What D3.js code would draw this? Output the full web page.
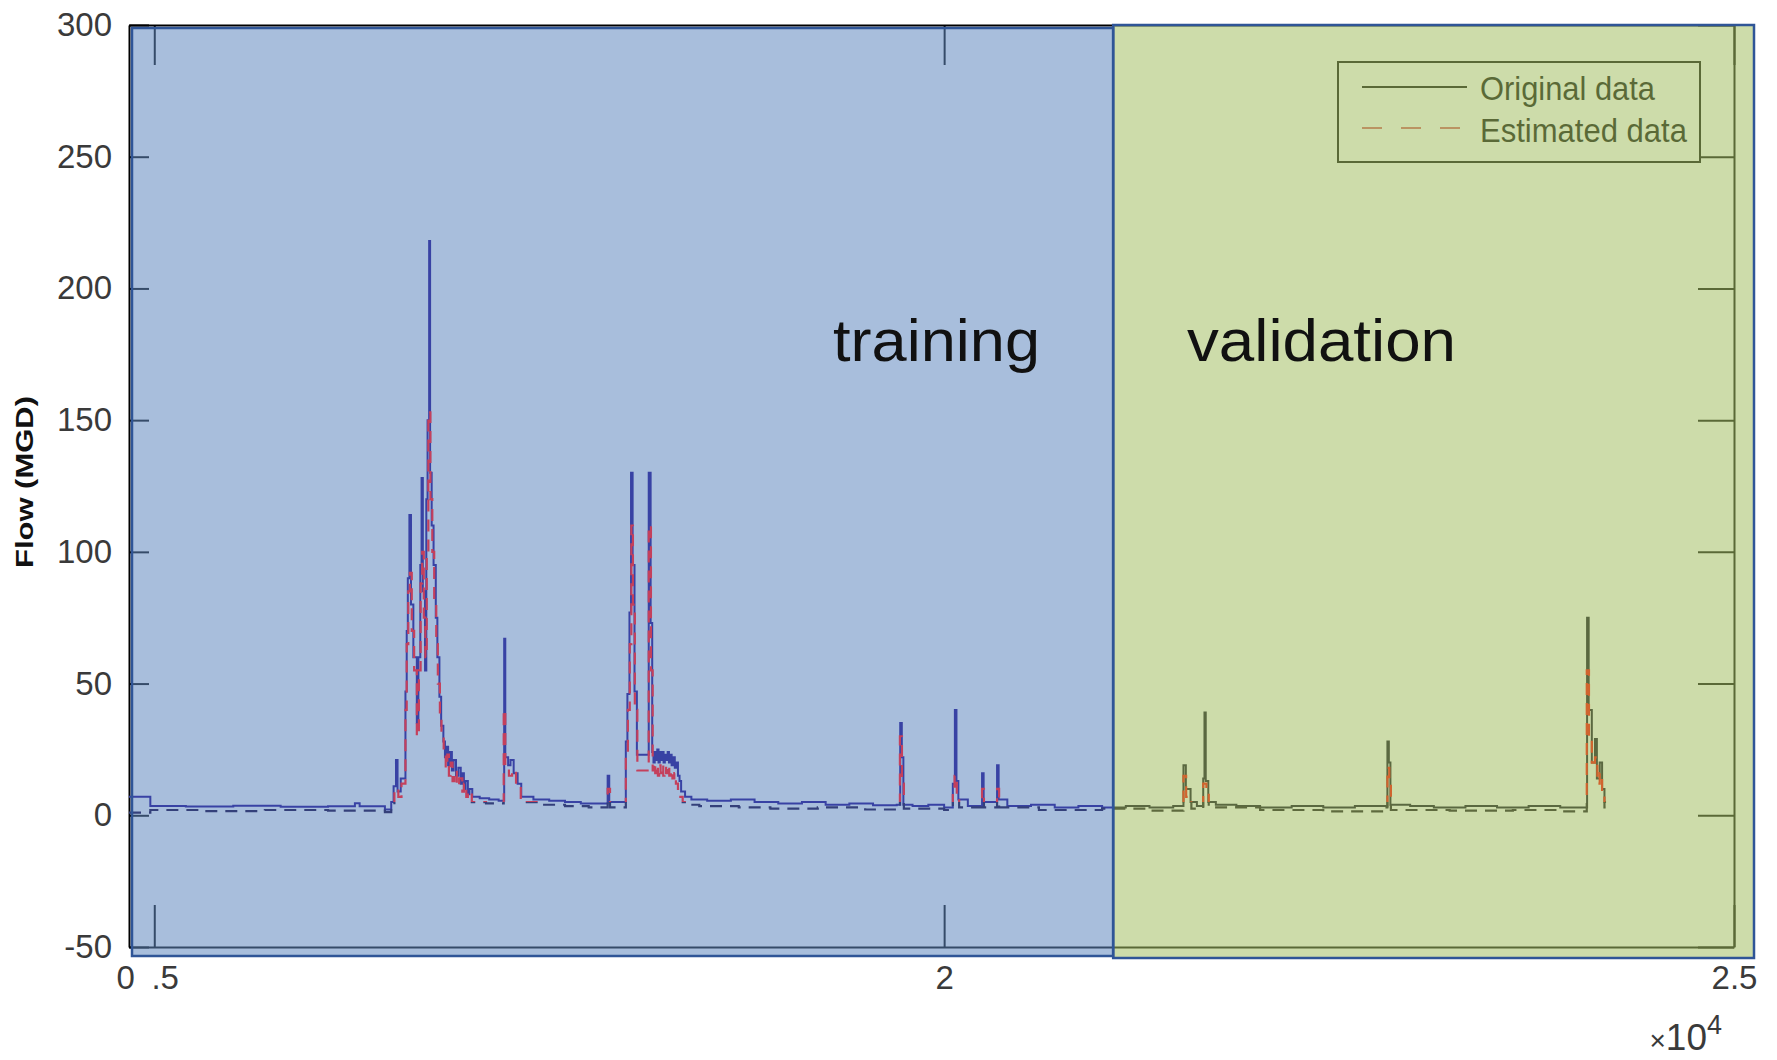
<!DOCTYPE html>
<html>
<head>
<meta charset="utf-8">
<script src="https://cdn.jsdelivr.net/npm/d3@7"></script>
<style>
  html, body { margin: 0; padding: 0; background: #fff; }
  svg { display: block; font-family: "Liberation Sans", Arial, Helvetica, sans-serif; }
</style>
</head>
<body>
<div id="chart-area"></div>
<script>
// sample index (raw, x-axis is shown as x10^4) and flow in MGD
const origTime = [14840, 14975, 15200, 15500, 15800, 16100, 16270, 16300, 16460, 16500, 16515, 16530, 16540, 16560,
  16590, 16598, 16605, 16615, 16625, 16640, 16662, 16672, 16684, 16692, 16700, 16714, 16722, 16730, 16740, 16746,
  16756, 16768, 16782, 16792, 16805, 16816, 16830, 16840, 16850, 16860, 16872, 16884, 16895, 16910, 16925, 16940,
  16950, 16960, 16970, 16985, 16995, 17013, 17060, 17120, 17180, 17215, 17222, 17240, 17255, 17275, 17300, 17323,
  17400, 17500, 17600, 17700, 17800, 17870, 17880, 17985, 17995, 18008, 18018, 18028, 18040, 18055, 18130, 18142,
  18152, 18160, 18168, 18176, 18184, 18192, 18200, 18208, 18216, 18224, 18232, 18240, 18250, 18258, 18266, 18275,
  18285, 18295, 18305, 18315, 18325, 18335, 18360, 18400, 18500, 18650, 18800, 18950, 19100, 19250, 19400, 19550,
  19700, 19722, 19732, 19742, 19800, 19900, 20000, 20055, 20068, 20078, 20090, 20150, 20240, 20250, 20335, 20345,
  20400, 20550, 20700, 20850, 21000, 21150, 21300, 21450, 21515, 21530, 21560, 21600, 21640, 21648, 21656, 21672,
  21720, 21850, 22000, 22200, 22400, 22600, 22800, 22806, 22815, 22825, 22950, 23100, 23300, 23500, 23700, 23900,
  24070, 24080, 24100, 24120, 24132, 24150, 24165, 24180, 24190];
const origFlow = [7.0, 3.5, 3.3, 3.6, 3.2, 3.4, 4.6, 3.4, 2.2, 5, 11, 21, 9, 14,
  47, 70, 90, 114, 80, 60, 35, 60, 95, 128, 85, 55, 120, 150, 218, 130,
  110, 95, 75, 60, 45, 34, 28, 22, 26, 19, 24, 17, 21, 15, 18, 12,
  16, 10, 13, 8, 10, 7, 6.5, 6, 5.5, 67, 22, 19, 21, 16, 12, 7,
  6, 5.5, 5, 4.5, 4.5, 15, 5, 28, 46, 77, 130, 95, 47, 23, 130, 73,
  24, 20, 24, 21, 25, 20, 24, 21, 24, 20, 23, 21, 24, 20, 23, 19,
  22, 18, 20, 15, 13, 9, 7, 6, 5.5, 6, 5, 4.5, 5, 4, 4.5, 3.8,
  4, 35, 22, 4, 3.5, 4, 3, 12, 40, 13, 6, 3.5, 16, 5, 19, 6,
  3.5, 4, 3, 3.5, 3, 3.5, 3, 3.5, 19, 10, 5, 3.5, 14, 39, 13, 5,
  4, 3.5, 3, 3.5, 3, 3.5, 3, 28, 20, 4, 3.5, 3, 3.5, 3, 3.5, 3,
  75, 40, 20, 29, 14, 20, 10, 5, 5];

const estTime = [14840, 14975, 15300, 15700, 16100, 16460, 16500, 16520, 16545, 16565, 16590, 16598, 16608, 16618,
  16630, 16645, 16662, 16675, 16686, 16696, 16706, 16716, 16725, 16735, 16748, 16760, 16772, 16785, 16795, 16808,
  16818, 16832, 16845, 16855, 16865, 16876, 16888, 16900, 16915, 16930, 16950, 16960, 16975, 16985, 17010, 17100,
  17212, 17222, 17245, 17265, 17290, 17320, 17450, 17600, 17750, 17870, 17885, 17985, 17998, 18010, 18020, 18030,
  18042, 18058, 18130, 18144, 18155, 18163, 18171, 18180, 18188, 18196, 18205, 18213, 18222, 18230, 18240, 18250,
  18260, 18270, 18280, 18292, 18302, 18315, 18330, 18345, 18370, 18450, 18700, 18900, 19200, 19500,
  19700, 19720, 19733, 19745, 20000, 20055, 20066, 20080, 20095, 20240, 20252, 20335, 20348, 20600, 21000, 21300,
  21515, 21532, 21565, 21640, 21660, 21675, 22000, 22400, 22800, 22806, 22818, 22828, 23200, 23600, 23900, 24068,
  24082, 24100, 24120, 24135, 24150, 24165, 24180, 24190];
const estFlow = [1.0, 2.0, 1.6, 2.0, 1.8, 1.2, 4, 10, 7, 12, 40, 65, 85, 92,
  70, 55, 30, 55, 88, 100, 75, 60, 100, 153, 120, 100, 80, 65, 50, 38,
  30, 24, 18, 23, 15, 20, 13, 17, 11, 14, 9, 12, 7, 9, 5, 4.5,
  40, 18, 15, 17, 11, 5, 4, 3.5, 3, 10, 3, 22, 40, 65, 110, 80,
  40, 17, 110, 55, 17, 20, 16, 19, 15, 19, 16, 19, 15, 18, 16, 19,
  15, 17, 14, 16, 12, 10, 7, 5, 4, 3.5, 3, 2.5, 3, 2.2,
  2.5, 30, 12, 2.5, 2, 10, 15, 8, 3, 10, 3, 10, 3, 2, 2.5, 1.8,
  15, 7, 2.5, 12, 10, 3, 2, 1.5, 2, 18, 12, 2, 1.8, 2, 1.5, 55,
  30, 20, 22, 12, 16, 8, 3, 3];

const splitAt = 21070;           // training | validation boundary
const yTicks = [-50, 0, 50, 100, 150, 200, 250, 300];
const xTicks = [15000, 20000, 25000];
const xTickLabels = ["0\u2002.5", "2", "2.5"];
const seriesNames = ["Original data", "Estimated data"];
const regionNames = ["training", "validation"];

const width = 1777, height = 1060;
const svg = d3.select('#chart-area').append('svg')
  .attr('width', width).attr('height', height);

const x = d3.scaleLinear().domain([14840, 25000]).range([129, 1734]);
const y = d3.scaleLinear().domain([-50, 300]).range([947, 25]);

// axes box, black, tinted later by the overlays
const styleAxis = g => {
  g.attr('font-size', null).attr('font-family', null);
  g.select('.domain').attr('stroke', '#000').attr('stroke-width', 2);
  g.selectAll('.tick line').attr('stroke', '#000').attr('stroke-width', 2);
  g.selectAll('.tick text').attr('fill', '#3a3a3a').style('font-size', '33px');
};

svg.append('g')
  .attr('transform', `translate(${x.range()[0]},0)`)
  .call(d3.axisLeft(y).tickValues(yTicks).tickSize(-20).tickSizeOuter(0).tickPadding(17)
    .tickFormat(d => String(d)))
  .call(styleAxis);
svg.append('g')
  .attr('transform', `translate(${x.range()[1]},0)`)
  .call(d3.axisRight(y).tickValues(yTicks).tickSize(-36).tickSizeOuter(0).tickFormat(() => ''))
  .call(styleAxis);
svg.append('g')
  .attr('transform', `translate(0,${y.range()[1]})`)
  .call(d3.axisTop(x).tickValues(xTicks).tickSize(-40).tickSizeOuter(0).tickFormat(() => ''))
  .call(styleAxis);
let xAxisGroup = svg.append('g')
  .attr('transform', `translate(0,${y.range()[0]})`)
  .call(d3.axisBottom(x).tickValues(xTicks).tickSize(-42).tickSizeOuter(0).tickPadding(19)
    .tickFormat((d, i) => xTickLabels[i]))
  .call(styleAxis);
xAxisGroup.selectAll('.tick text').attr('x', (d, i) => i === 0 ? -7 : 0).style('white-space', 'pre');

// x10^4
const expo = svg.append('text')
  .attr('x', 1722).attr('y', 1050)
  .attr('text-anchor', 'end')
  .attr('fill', '#3a3a3a');
expo.append('tspan').style('font-size', '28px').text('\u00d7');
expo.append('tspan').style('font-size', '37px').text('10');
expo.append('tspan').style('font-size', '27px').attr('dy', -16).text('4');

// y label
svg.append('text')
  .attr('transform', 'translate(33,482) rotate(-90)')
  .attr('text-anchor', 'middle')
  .attr('font-weight', 'bold')
  .attr('font-size', '24px')
  .attr('textLength', 172)
  .attr('lengthAdjust', 'spacingAndGlyphs')
  .attr('fill', '#111')
  .text('Flow (MGD)');

// legend (drawn before the overlay, so it gets tinted)
const legend = svg.append('g');
legend.append('rect')
  .attr('x', 1338).attr('y', 62).attr('width', 362).attr('height', 100)
  .attr('fill', '#fff').attr('stroke', '#000').attr('stroke-width', 2);
legend.append('line')
  .attr('x1', 1362).attr('x2', 1467).attr('y1', 87).attr('y2', 87)
  .attr('stroke', '#000').attr('stroke-width', 2);
legend.append('line')
  .attr('x1', 1362).attr('x2', 1467).attr('y1', 128).attr('y2', 128)
  .attr('stroke', '#d46060').attr('stroke-width', 2).attr('stroke-dasharray', '20,19');
legend.selectAll('text.leg')
  .data(seriesNames)
  .enter().append('text')
  .attr('class', 'leg')
  .attr('x', 1480)
  .attr('y', (d, i) => 100 + i * 42)
  .attr('font-size', '34px')
  .attr('textLength', (d, i) => i === 0 ? 175 : 207)
  .attr('lengthAdjust', 'spacingAndGlyphs')
  .attr('fill', '#000')
  .text(d => d);

// overlays
const xs = x(splitAt);
const regions = [
  { x0: 132, x1: xs, y0: 28, y1: 956, fill: 'rgb(96,136,191)' },
  { x0: xs, x1: 1754, y0: 25, y1: 958, fill: 'rgb(164,191,100)' }
];
svg.selectAll('rect.overlay')
  .data(regions)
  .enter().append('rect')
  .attr('class', 'overlay')
  .attr('x', d => d.x0).attr('y', d => d.y0)
  .attr('width', d => d.x1 - d.x0).attr('height', d => d.y1 - d.y0)
  .attr('fill', d => d.fill).attr('fill-opacity', 0.55);

// clips per region for the data lines
const defs = svg.append('defs');
defs.append('clipPath').attr('id', 'clip-train')
  .append('rect').attr('x', x.range()[0]).attr('y', 0).attr('width', xs - x.range()[0]).attr('height', height);
defs.append('clipPath').attr('id', 'clip-valid')
  .append('rect').attr('x', xs).attr('y', 0).attr('width', x.range()[1] - xs).attr('height', height);

const addGrad = (id, low, high) => {
  let g = defs.append('linearGradient').attr('id', id)
    .attr('gradientUnits', 'userSpaceOnUse')
    .attr('x1', 0).attr('x2', 0).attr('y1', y(0)).attr('y2', y(300));
  let cut = 5 / 300;
  g.append('stop').attr('offset', 0).attr('stop-color', low);
  g.append('stop').attr('offset', cut).attr('stop-color', low);
  g.append('stop').attr('offset', cut).attr('stop-color', high);
  g.append('stop').attr('offset', 1).attr('stop-color', high);
};
addGrad('est-train', '#34407a', '#c4405c');
addGrad('est-valid', '#5e6a3e', '#d0642e');

const origData = origTime.map((t, i) => [t, origFlow[i]]);
const estData = estTime.map((t, i) => [t, estFlow[i]]);
const line = d3.line().x(d => x(d[0])).y(d => y(d[1])).curve(d3.curveStepAfter);

const looks = [
  { clip: 'clip-train', orig: '#3842a4', est: 'url(#est-train)' },
  { clip: 'clip-valid', orig: '#5a6840', est: 'url(#est-valid)' }
];
looks.forEach(lk => {
  let g = svg.append('g').attr('clip-path', `url(#${lk.clip})`);
  g.append('path').datum(origData)
    .attr('d', line).attr('fill', 'none')
    .attr('stroke', lk.orig).attr('stroke-width', 2);
  g.append('path').datum(estData)
    .attr('d', line).attr('fill', 'none')
    .attr('stroke', lk.est).attr('stroke-width', 2.2)
    .attr('stroke-dasharray', '12,8');
});

// overlay borders
svg.selectAll('rect.border')
  .data(regions)
  .enter().append('rect')
  .attr('class', 'border')
  .attr('x', d => d.x0).attr('y', d => d.y0)
  .attr('width', d => d.x1 - d.x0).attr('height', d => d.y1 - d.y0)
  .attr('fill', 'none').attr('stroke', '#2f5597').attr('stroke-width', 2.5);

// region labels
svg.selectAll('text.region')
  .data(regionNames)
  .enter().append('text')
  .attr('class', 'region')
  .attr('x', (d, i) => i === 0 ? 833 : 1187)
  .attr('y', 361)
  .attr('font-size', '60px')
  .attr('textLength', (d, i) => i === 0 ? 207 : 269)
  .attr('lengthAdjust', 'spacingAndGlyphs')
  .attr('fill', '#111')
  .text(d => d);
</script>
</body>
</html>
